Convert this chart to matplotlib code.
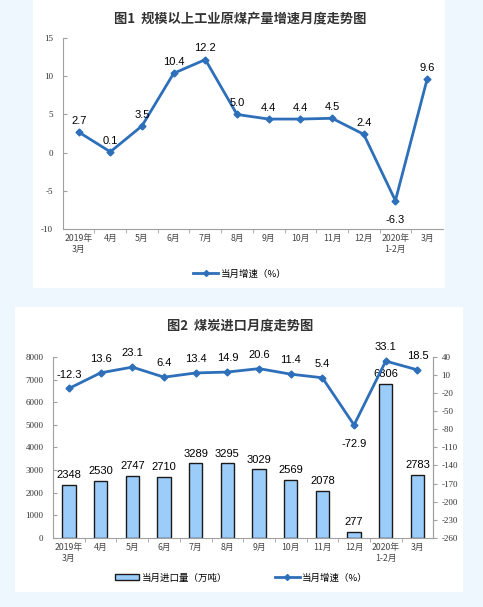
import matplotlib
matplotlib.use("Agg")
import matplotlib.pyplot as plt
from matplotlib.patches import Rectangle, Patch
from matplotlib.lines import Line2D

plt.rcParams['font.family'] = ['Noto Sans CJK SC', 'DejaVu Sans']

months = ['2019年\n3月', '4月', '5月', '6月', '7月', '8月', '9月',
          '10月', '11月', '12月', '2020年\n1-2月', '3月']
coal_growth = [2.7, 0.1, 3.5, 10.4, 12.2, 5.0, 4.4, 4.4, 4.5, 2.4, -6.3, 9.6]
import_vol = [2348, 2530, 2747, 2710, 3289, 3295, 3029, 2569, 2078, 277, 6806, 2783]
import_growth = [-12.3, 13.6, 23.1, 6.4, 13.4, 14.9, 20.6, 11.4, 5.4, -72.9, 33.1, 18.5]

line_c = '#2e6fba'
bar_c = '#9ccdfa'
bg_c = '#eef6fe'
spine_c = '#a0a0a0'
num_font = ['Liberation Serif', 'DejaVu Serif']

fig = plt.figure(figsize=(4.83, 6.07), dpi=100)
fig.patch.set_facecolor(bg_c)
fig.patches.append(Rectangle((0.068, 0.526), 0.853, 0.474, transform=fig.transFigure,
                             facecolor='white', edgecolor='none', zorder=-1))
fig.patches.append(Rectangle((0.031, 0.025), 0.928, 0.4695, transform=fig.transFigure,
                             facecolor='white', edgecolor='none', zorder=-1))

x = list(range(len(months)))


def style_x(ax):
    ax.set_xlim(-0.5, len(months) - 0.5)
    ax.set_xticks(x)
    ax.set_xticklabels(months, fontsize=6.3, color='#444444', linespacing=1.2)
    ax.set_xticks([i + 0.5 for i in x[:-1]], minor=True)
    ax.tick_params(axis='x', which='major', length=0, pad=4)
    ax.tick_params(axis='x', which='minor', length=3, color=spine_c, direction='out')


# ---- chart 1
ax1 = fig.add_axes([0.130, 0.623, 0.787, 0.314])
ax1.set_facecolor('none')
ax1.plot(x, coal_growth, color=line_c, lw=2, marker='D', ms=3.5, zorder=3)
ax1.set_ylim(-10, 15)
ax1.set_yticks(range(-10, 16, 5))
ax1.set_yticklabels([str(v) for v in range(-10, 16, 5)], family=num_font, fontsize=6.5,
                    color='#333333')
ax1.tick_params(axis='y', length=3, color=spine_c, direction='in', pad=7)
style_x(ax1)
for s in ['top', 'right']:
    ax1.spines[s].set_visible(False)
for s in ['left', 'bottom']:
    ax1.spines[s].set_color(spine_c)
    ax1.spines[s].set_linewidth(0.8)
for i, v in enumerate(coal_growth):
    dy = -14 if v < 0 else 8
    ax1.annotate(f'{v:.1f}', (i, v), xytext=(0, dy), textcoords='offset points',
                 ha='center', va='center', fontsize=8, family=['Liberation Sans', 'DejaVu Sans'])
fig.text(0.497, 0.970, '图1  规模以上工业原煤产量增速月度走势图', ha='center', va='center',
         fontsize=9.5, fontweight='bold', color='#333333')
fig.legend(handles=[Line2D([], [], color=line_c, lw=2, marker='D', ms=3)],
           labels=['当月增速（%）'], loc='center', bbox_to_anchor=(0.497, 0.549),
           frameon=False, fontsize=6.8, handlelength=2.6, handletextpad=0.3)

# ---- chart 2
ax2 = fig.add_axes([0.110, 0.114, 0.787, 0.298])
ax2.set_facecolor('none')
ax2.bar(x, import_vol, width=0.42, color=bar_c, edgecolor='#1a1a1a', lw=1, zorder=2)
ax2.set_ylim(0, 8000)
ax2.set_yticks(range(0, 8001, 1000))
ax2.set_yticklabels([str(v) for v in range(0, 8001, 1000)], family=num_font, fontsize=6.5,
                    color='#333333')
ax2.tick_params(axis='y', length=3, color=spine_c, direction='in', pad=7)
style_x(ax2)
ax2.spines['top'].set_visible(False)
for s in ['left', 'bottom', 'right']:
    ax2.spines[s].set_color(spine_c)
    ax2.spines[s].set_linewidth(0.8)
for i, v in enumerate(import_vol):
    ax2.annotate(str(v), (i, v), xytext=(0, 7), textcoords='offset points',
                 ha='center', va='center', fontsize=8, family=['Liberation Sans', 'DejaVu Sans'],
                 zorder=5)

ax3 = ax2.twinx()
ax3.plot(x, import_growth, color=line_c, lw=2, marker='D', ms=3.5, zorder=3)
ax3.set_ylim(-260, 40)
ax3.set_yticks(range(-260, 41, 30))
ax3.set_yticklabels([str(v) for v in range(-260, 41, 30)], family=num_font, fontsize=6.5,
                    color='#333333')
ax3.tick_params(axis='y', length=3, color=spine_c, pad=3)
for s in ['top', 'left', 'bottom']:
    ax3.spines[s].set_visible(False)
ax3.spines['right'].set_color(spine_c)
ax3.spines['right'].set_linewidth(0.8)
for i, v in enumerate(import_growth):
    dy = -14 if v < -50 else 10
    ax3.annotate(f'{v:.1f}', (i, v), xytext=(0, dy), textcoords='offset points',
                 ha='center', va='center', fontsize=8, family=['Liberation Sans', 'DejaVu Sans'])
fig.text(0.497, 0.463, '图2  煤炭进口月度走势图', ha='center', va='center',
         fontsize=9.5, fontweight='bold', color='#333333')
fig.legend(handles=[Patch(facecolor=bar_c, edgecolor='#1a1a1a', lw=1),
                    Line2D([], [], color=line_c, lw=2, marker='D', ms=3)],
           labels=['当月进口量（万吨）', '当月增速（%）'], loc='center',
           bbox_to_anchor=(0.50, 0.048), ncol=2, frameon=False, fontsize=6.8,
           handlelength=2.6, handleheight=0.6, handletextpad=0.3, columnspacing=5)

fig.savefig('out.png', dpi=100, facecolor=fig.get_facecolor())
